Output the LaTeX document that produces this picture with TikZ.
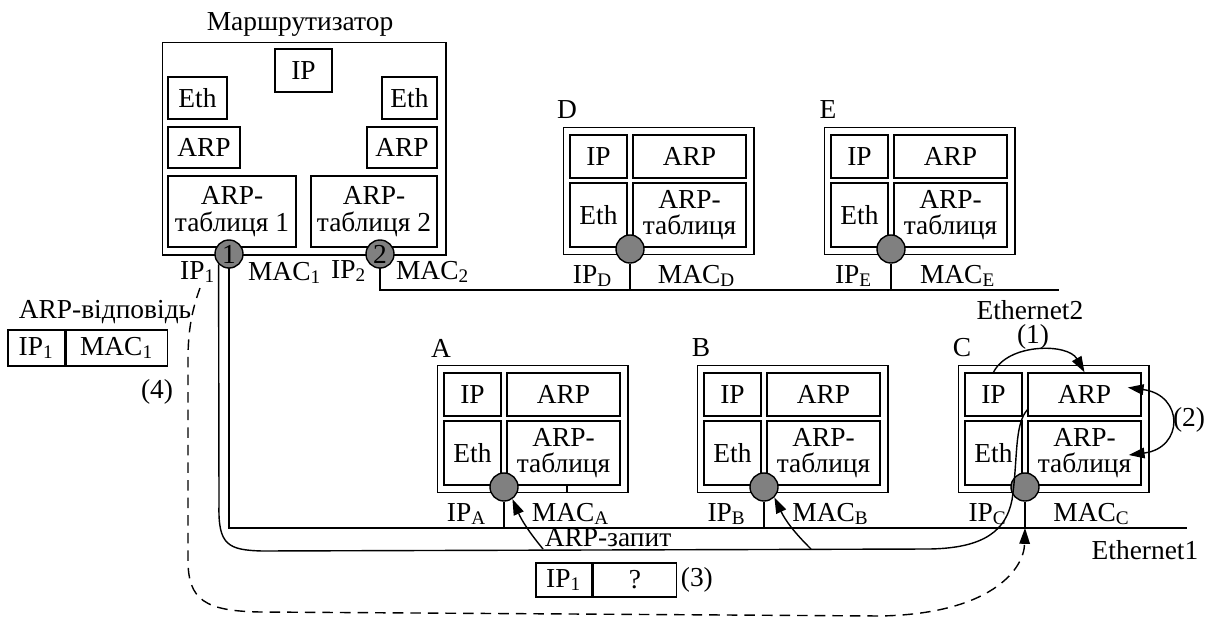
\documentclass[tikz,border=0pt]{standalone}
\usepackage{fontspec}
\setmainfont{Liberation Serif}
\usetikzlibrary{arrows.meta,calc,positioning}
\definecolor{port}{HTML}{808080}
\tikzset{>={Triangle[length=4.5pt,width=3pt]},line width=.6pt,
  every node/.style={font=\fontsize{7.8}{7.6}\selectfont,inner sep=0pt},
  cell/.style={draw,align=center},
  portdot/.style={circle,draw,fill=port,minimum size=.28cm},
  reply/.style={dash pattern=on 3pt off 2pt}}

\begin{document}
\begin{tikzpicture}[x=.01cm,y=-.01cm]
\useasboundingbox (0,0) rectangle (1211,621);
% hosts
\foreach \n/\ox/\oy in {A/437/365,B/697/365,C/958/365,D/563/127,E/824/127}{
  \begin{scope}[shift={(\ox,\oy)}]
  \node[draw,minimum width=1.9cm,minimum height=1.27cm,anchor=north west] (\n) at (0,0) {};
  \node[cell,minimum width=.57cm,minimum height=.43cm] (\n-ip) at (35.5,29.5) {IP};
  \node[cell,minimum width=1.13cm,minimum height=.43cm] (\n-arp) at (126.5,29.5) {ARP};
  \node[cell,minimum width=.57cm,minimum height=.64cm] (\n-eth) at (35.5,88) {Eth};
  \node[cell,minimum width=1.13cm,minimum height=.64cm] (\n-tab) at (126.5,88) {ARP-\\таблиця};
  \coordinate (\n-t) at (67,163);
  \node[portdot] (\n-p) at (67,122) {};
  \draw (\n-p) -- (\n-t);
  \node (\n-name) at (4,-17) {\n};
  \node (\n-ipl) at (30,149) {IP\textsubscript{\n}};
  \node (\n-mac) at (134,149) {MAC\textsubscript{\n}};
  \end{scope}}
\draw (567,485) -- (567,492);
% router
\node[draw,minimum width=2.83cm,minimum height=2.12cm,anchor=north west] (R) at (162,42) {};
\node (R-name) at (300,24) {Маршрутизатор};
\node[cell,minimum width=.57cm,minimum height=.43cm] (R-ip) at (303.5,70.5) {IP};
\node[cell,minimum width=.59cm,minimum height=.42cm] (R-eth1) at (197.5,98) {Eth};
\node[cell,minimum width=.72cm,minimum height=.41cm] (R-arp1) at (204,147.5) {ARP};
\node[cell,minimum width=1.28cm,minimum height=.71cm] (R-tab1) at (232,211.5) {ARP-\\таблиця 1};
\node[cell,minimum width=.55cm,minimum height=.42cm] (R-eth2) at (409.5,98) {Eth};
\node[cell,minimum width=.70cm,minimum height=.41cm] (R-arp2) at (402,147.5) {ARP};
\node[cell,minimum width=1.26cm,minimum height=.71cm] (R-tab2) at (374,211.5) {ARP-\\таблиця 2};
\coordinate (e2) at (1059,290);
\coordinate (e1) at (1187,528);
\draw (380,254) |- (e2);
\draw (229,254) |- (e1);
\node[portdot] (p1) at (229,254) {1};
\node[portdot] (p2) at (380,254) {2};
\node (ip1) at (198,272) {IP\textsubscript{1}};
\node (mac1) at (285,273) {MAC\textsubscript{1}};
\node (ip2) at (349,271) {IP\textsubscript{2}};
\node (mac2) at (433,272) {MAC\textsubscript{2}};
\node (eth2) at (1030,310) {Ethernet2};
\node (eth1) at (1145,550) {Ethernet1};
% ARP request
\coordinate (qa) at (543,549);
\coordinate (qb) at (811,549);
\draw (p1.-135) -- (219,505) .. controls (218,545) and (228,550) .. (262,551) -- (930,549)
  .. controls (985,548) and (1006,530) .. (1012,500) .. controls (1018,460) and (1014,425) .. (C-arp.-165);
\draw[->] (qa) to[bend left=8] (A-p.-55);
\draw[->] (qb) to[bend left=10] (B-p.-45);
\node (req) at (608,538) {ARP-запит};
\node[cell,minimum width=.56cm,minimum height=.34cm] (q1) at (564,580) {IP\textsubscript{1}};
\node[cell,minimum width=.83cm,minimum height=.34cm,anchor=west] (q2) at (q1.east) {?};
\node[right=.03cm of q2] (n3) {(3)};
% steps in C
\draw[->] (C-ip.north) .. controls (1008,343) and (1068,343) .. (C-arp.north);
\node (n1) at (1033,337) {(1)};
\draw[<->] ($(C-arp.east)+(-14,-7)$) .. controls (1184,395) and (1184,448) .. ($(C-tab.east)+(-13,2)$);
\node (n2) at (1189,420) {(2)};
% ARP reply
\node (rep) at (105,312) {ARP-відповідь};
\node[cell,minimum width=.57cm,minimum height=.36cm] (r1) at (36.5,348) {IP\textsubscript{1}};
\node[cell,minimum width=1.01cm,minimum height=.36cm,anchor=west] (r2) at (r1.east) {MAC\textsubscript{1}};
\node (n4) at (157,392) {(4)};
\coordinate (ra) at (200,288);
\draw[reply,->] (ra) .. controls (192,310) and (188,330) .. (188,360) -- (188,560)
  .. controls (188,600) and (205,611) .. (260,612) -- (880,616) .. controls (990,614) and (1024,570) .. (C-t);
\end{tikzpicture}
\end{document}
